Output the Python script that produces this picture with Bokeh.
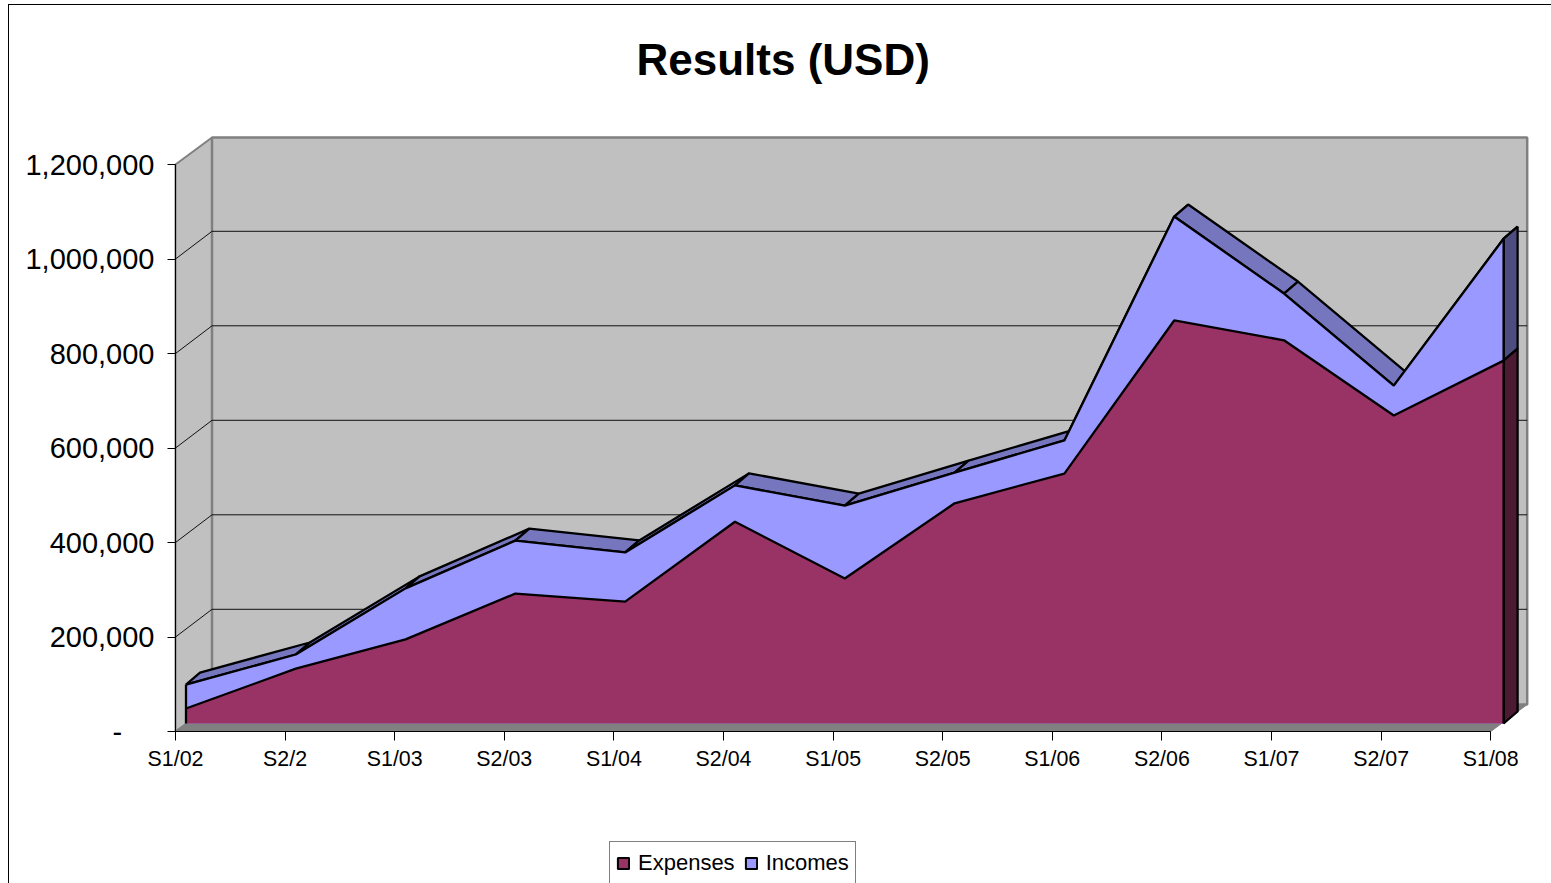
from bokeh.embed import file_html
from bokeh.resources import INLINE
from bokeh.plotting import figure
from bokeh.models import FixedTicker, Legend, LegendItem, Range1d, Title

categories = ["S1/02", "S2/2", "S1/03", "S2/03", "S1/04", "S2/04", "S1/05",
              "S2/05", "S1/06", "S2/06", "S1/07", "S2/07", "S1/08"]
expenses = [31700, 116000, 178000, 275000, 258000, 427000, 307000,
            466000, 529000, 853000, 811000, 652000, 768000]
incomes = [82500, 146000, 286000, 387000, 362000, 504000, 461000,
           531000, 599000, 1073000, 910000, 715000, 1026000]
y_ticks = [0, 200000, 400000, 600000, 800000, 1000000, 1200000]
y_labels = ["-\u00a0\u00a0\u00a0\u00a0", "200,000", "400,000", "600,000", "800,000", "1,000,000", "1,200,000"]

FONT = "Liberation Sans"
LW = 2.3
N = len(categories) - 1
PX_X = 109.6               # pixels per category
PX_Y = 94.5 / 200000       # pixels per value unit
WALL_DX, WALL_DY = 36.5 / PX_X, 27 / PX_Y
GRID_DY = 27.7 / PX_Y
SER_X0, SER_Y0 = 10.5 / PX_X, 8 / PX_Y
SER_X1, SER_Y1 = 24.5 / PX_X, 20 / PX_Y
SER_SCALE = 109.8 / PX_X

p = figure(width=1542, height=878, output_backend="svg", toolbar_location=None,
           x_range=Range1d(-166 / PX_X, 1376 / PX_X), y_range=Range1d(-152 / PX_Y, 621 / PX_Y),
           min_border_left=0, min_border_right=0, min_border_top=105, min_border_bottom=0,
           frame_width=1542, frame_height=773,
           background_fill_color="white", border_fill_color="white", outline_line_color=None)
p.styles = {"margin-top": "4px", "margin-left": "8px",
            "border-left": "1px solid #000", "border-top": "1px solid #000"}
p.grid.visible = False

p.title = Title(text="Results (USD)", align="left", offset=627, text_font=FONT,
                text_font_size="44px", text_font_style="bold", text_color="black", standoff=54)

# y axis, pinned at the first category inside the extended frame
p.yaxis.ticker = FixedTicker(ticks=y_ticks)
p.yaxis.major_label_overrides = dict(zip(y_ticks, y_labels))
p.yaxis.bounds = (y_ticks[0], y_ticks[-1])
p.yaxis.fixed_location = 0
p.yaxis.major_label_text_font = FONT
p.yaxis.major_label_text_font_size = "29px"
p.yaxis.major_label_text_color = "#000"
p.yaxis.major_label_standoff = 13
p.yaxis.major_tick_out = 8
p.yaxis.major_tick_in = 0
p.yaxis.minor_tick_line_color = None
p.yaxis.axis_line_color = "#000"
p.yaxis.major_tick_line_color = "#000"

# x axis, pinned at value 0 inside the extended frame
xt = list(range(len(categories)))
p.xaxis.ticker = FixedTicker(ticks=xt)
p.xaxis.major_label_overrides = dict(zip(xt, categories))
p.xaxis.bounds = (0, N)
p.xaxis.fixed_location = 0
p.xaxis.major_label_text_font = FONT
p.xaxis.major_label_text_font_size = "21.4px"
p.xaxis.major_label_text_color = "#000"
p.xaxis.major_label_standoff = 6
p.xaxis.major_tick_out = 9
p.xaxis.major_tick_in = 0
p.xaxis.minor_tick_line_color = None
p.xaxis.axis_line_color = "#000"
p.xaxis.major_tick_line_color = "#000"

top = y_ticks[-1]
# side wall and back wall
p.patch([0, WALL_DX, WALL_DX, 0], [0, WALL_DY, top + WALL_DY, top], fill_color="#c0c0c0", line_color="#808080", line_width=2)
p.patch([WALL_DX, N + WALL_DX, N + WALL_DX, WALL_DX], [WALL_DY, WALL_DY, top + WALL_DY, top + WALL_DY],
        fill_color="#c0c0c0", line_color="#808080", line_width=2.5)
# floor, above wall outlines
p.patch([0, N, N + WALL_DX, WALL_DX], [0, 0, WALL_DY, WALL_DY], fill_color="#808080", line_color="#808080", line_width=1)
# gridlines
for t in y_ticks[1:-1]:
    p.line([0, WALL_DX, N + WALL_DX], [t, t + GRID_DY, t + GRID_DY], line_color="#111", line_width=1)

def fx(i, back=False):
    return i * SER_SCALE + (SER_X1 if back else SER_X0)

def fy(v, back=False):
    return v + (SER_Y1 if back else SER_Y0)

# income top ribbons
for i in range(N):
    p.patch([fx(i), fx(i + 1), fx(i + 1, True), fx(i, True)],
            [fy(incomes[i]), fy(incomes[i + 1]), fy(incomes[i + 1], True), fy(incomes[i], True)],
            fill_color="#7676bf", line_color="#000", line_width=LW)

# right-hand end faces
p.patch([fx(N), fx(N, True), fx(N, True), fx(N)],
        [fy(incomes[N]), fy(incomes[N], True), fy(expenses[N], True), fy(expenses[N])],
        fill_color="#4d4d80", line_color="#000", line_width=LW)
p.patch([fx(N), fx(N, True), fx(N, True), fx(N)],
        [fy(expenses[N]), fy(expenses[N], True), fy(0, True), fy(0)],
        fill_color="#4d1a33", line_color="#000", line_width=LW)

# front faces
fxs = [fx(i) for i in range(N + 1)]
base = fy(0)
p.patch(fxs + [fxs[-1], fxs[0]], [fy(v) for v in incomes] + [base, base],
        fill_color="#9999ff", line_color=None)
p.line(fxs, [fy(v) for v in incomes], line_color="#000", line_width=LW)
p.patch(fxs + [fxs[-1], fxs[0]], [fy(v) for v in expenses] + [base, base],
        fill_color="#993366", line_color=None)
p.line(fxs, [fy(v) for v in expenses], line_color="#000", line_width=LW)
p.line([fxs[0], fxs[0]], [fy(incomes[0]), base], line_color="#000", line_width=LW)
p.line([fxs[-1], fxs[-1]], [fy(incomes[-1]), base], line_color="#000", line_width=LW)

# legend
nan = float("nan")
exp_key = p.patch([nan], [nan], fill_color="#993366", line_color="#000", line_width=2)
inc_key = p.patch([nan], [nan], fill_color="#9999ff", line_color="#000", line_width=2)
legend = Legend(items=[LegendItem(label="Expenses", renderers=[exp_key]),
                       LegendItem(label="Incomes", renderers=[inc_key])],
                orientation="horizontal", location=(600, -1), margin=0, padding=6,
                spacing=9, glyph_width=14, glyph_height=14, label_standoff=8, label_height=29,
                label_text_font=FONT, label_text_font_size="22px", label_text_color="#000",
                border_line_color="#000", border_line_width=1, background_fill_color="white",
                background_fill_alpha=1)
p.add_layout(legend, "center")

open("out.html", "w").write(file_html(p, INLINE))
